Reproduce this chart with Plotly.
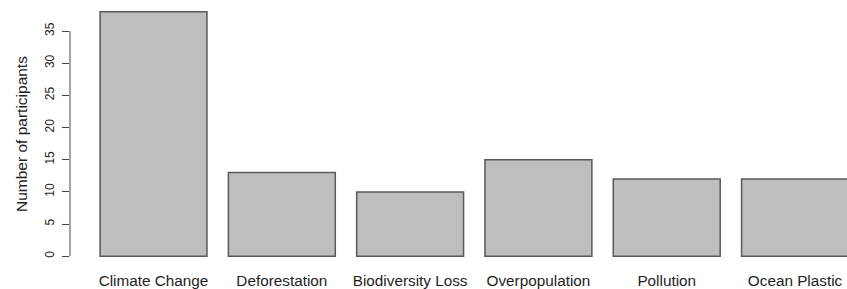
import plotly.graph_objects as go

categories = ["Climate Change", "Deforestation", "Biodiversity Loss",
              "Overpopulation", "Pollution", "Ocean Plastic"]
participants = [38, 13, 10, 15, 12, 12]
y_ticks = [0, 5, 10, 15, 20, 25, 30, 35]

TEXT = "#1e1e1e"
FONT = "Liberation Sans, Arial, sans-serif"

fig = go.Figure(go.Bar(
    x=categories, y=participants,
    marker=dict(color="#bebebe", line=dict(color="#595959", width=1.5)),
))

fig.update_layout(
    width=847, height=289,
    margin=dict(l=70, r=0, t=2, b=23, autoexpand=False),
    plot_bgcolor="white", paper_bgcolor="white",
    bargap=0.2 / 1.2,
    showlegend=False,
    font=dict(family=FONT, color=TEXT),
)
fig.update_xaxes(
    range=[-0.651, 5.405], showline=False, showgrid=False, zeroline=False,
    automargin=False,
    ticks="", tickfont=dict(size=15.3, color=TEXT), ticklabelstandoff=4,
)
fig.update_yaxes(
    range=[-1.52, 39.52], showline=False, showgrid=False, zeroline=False,
    automargin=False,
    tickvals=y_ticks, ticktext=[str(v) for v in y_ticks],
    ticks="outside", ticklen=7, tickwidth=1, tickcolor="#444444",
    tickangle=-90, tickfont=dict(size=12, color=TEXT), ticklabelstandoff=3,
)
# R-style axis line spanning only the tick range
fig.add_shape(type="line", xref="paper", yref="y", x0=0, x1=0,
              y0=min(y_ticks), y1=max(y_ticks),
              line=dict(color="#444444", width=1))
fig.add_annotation(text="Number of participants", xref="paper", yref="paper",
                   x=0, y=0.5, xanchor="center", yanchor="middle", xshift=-49,
                   textangle=-90, showarrow=False,
                   font=dict(size=15.5, color=TEXT))

fig.write_html("out.html", config={"displayModeBar": False},
               post_script="document.body.style.margin='0';document.body.style.overflow='hidden';")
